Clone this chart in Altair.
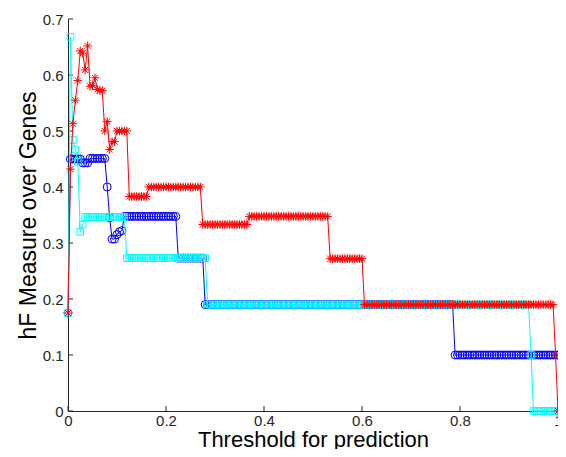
import altair as alt
import pandas as pd

# threshold sweep (x positions of the markers, step 0.005)
thresholds = [round(i * 0.005, 3) for i in range(201)]

red_values = ([0.175, 0.432, 0.513, 0.555, 0.590, 0.643, 0.639, 0.609, 0.652, 0.580,
               0.581, 0.595, 0.574, 0.572, 0.572, 0.500, 0.517, 0.467, 0.481, 0.481]
              + [0.5] * 5 + [0.383] * 8 + [0.4] * 22 + [0.333] * 19 + [0.3475] * 33
              + [0.272] * 14 + [0.19] * 78 + [0.1] + [0.0])

blue_values = ([0.175] + [0.45] * 5 + [0.443] * 3 + [0.451] * 7
               + [0.40, 0.345, 0.307, 0.307, 0.315, 0.32, 0.322]
               + [0.3475] * 22 + [0.273] * 11 + [0.19] * 102 + [0.1] * 43)

cyan_values = ([0.175, 0.668, 0.484, 0.467, 0.445, 0.32, 0.333]
               + [0.3465] * 17 + [0.273] * 33 + [0.19] * 132 + [0.1] + [0.0] * 11)

x_ticks = [0, 0.2, 0.4, 0.6, 0.8, 1.0]
y_ticks = [0, 0.1, 0.2, 0.3, 0.4, 0.5, 0.6, 0.7]

W, H = 490, 392
AX = "#262626"
FONT = "Liberation Sans"
ASTERISK = ("M-1,0L1,0M0,-1L0,1M-0.7071,-0.7071L0.7071,0.7071"
            "M-0.7071,0.7071L0.7071,-0.7071")

xs = alt.Scale(domain=[0, 1], nice=False, zero=False)
ys = alt.Scale(domain=[0, 0.7], nice=False, zero=False)

x_axis = alt.Axis(values=x_ticks, format="~g", title="Threshold for prediction",
                  ticks=False, grid=False, domainColor=AX, domainWidth=1,
                  labelColor=AX, labelFont=FONT, labelFontSize=15, labelPadding=2,
                  labelFlush=False, labelOverlap=False, labelBound=False,
                  titleFont=FONT, titleFontSize=22, titleFontWeight="normal",
                  titleColor="#000000", titleBaseline="alphabetic", titleY=35)
y_axis = alt.Axis(values=y_ticks, format="~g", title="hF Measure over Genes",
                  ticks=False, grid=False, domainColor=AX, domainWidth=1,
                  labelColor=AX, labelFont=FONT, labelFontSize=15, labelPadding=5,
                  labelFlush=False, labelOverlap=False, labelBound=False,
                  titleFont=FONT, titleFontSize=23, titleFontWeight="normal",
                  titleColor="#000000", titleAngle=270, titleBaseline="alphabetic",
                  titleX=-33)


def series(vals, color, shape, size):
    df = pd.DataFrame({"t": thresholds, "v": vals})
    base = alt.Chart(df).encode(
        x=alt.X("t:Q", scale=xs, axis=x_axis),
        y=alt.Y("v:Q", scale=ys, axis=y_axis),
    )
    line = base.mark_line(color=color, strokeWidth=1, clip=False)
    pts = base.mark_point(shape=shape, color=color, filled=False, size=size,
                          strokeWidth=1, opacity=1, clip=False)
    return [line, pts]


xt = alt.Chart(pd.DataFrame({"t": x_ticks})).mark_rule(color=AX, strokeWidth=1).encode(
    x=alt.X("t:Q", scale=xs, axis=x_axis), y=alt.value(H), y2=alt.value(H - 5))
yt = alt.Chart(pd.DataFrame({"t": y_ticks})).mark_rule(color=AX, strokeWidth=1).encode(
    y=alt.Y("t:Q", scale=ys, axis=y_axis), x=alt.value(0), x2=alt.value(5))

layers = ([xt, yt]
          + series(blue_values, "#0000FF", "circle", 64)
          + series(cyan_values, "#00FFFF", "square", 44)
          + series(red_values, "#FF0000", ASTERISK, 72))

chart = alt.layer(*layers).properties(
    width=W, height=H,
    autosize=alt.AutoSizeParams(type="none"),
    padding={"left": 60, "top": 11, "right": 0, "bottom": 38},
    background="white",
).configure_view(stroke=None)

chart.save("out.html", embed_options={"renderer": "svg", "actions": False})
